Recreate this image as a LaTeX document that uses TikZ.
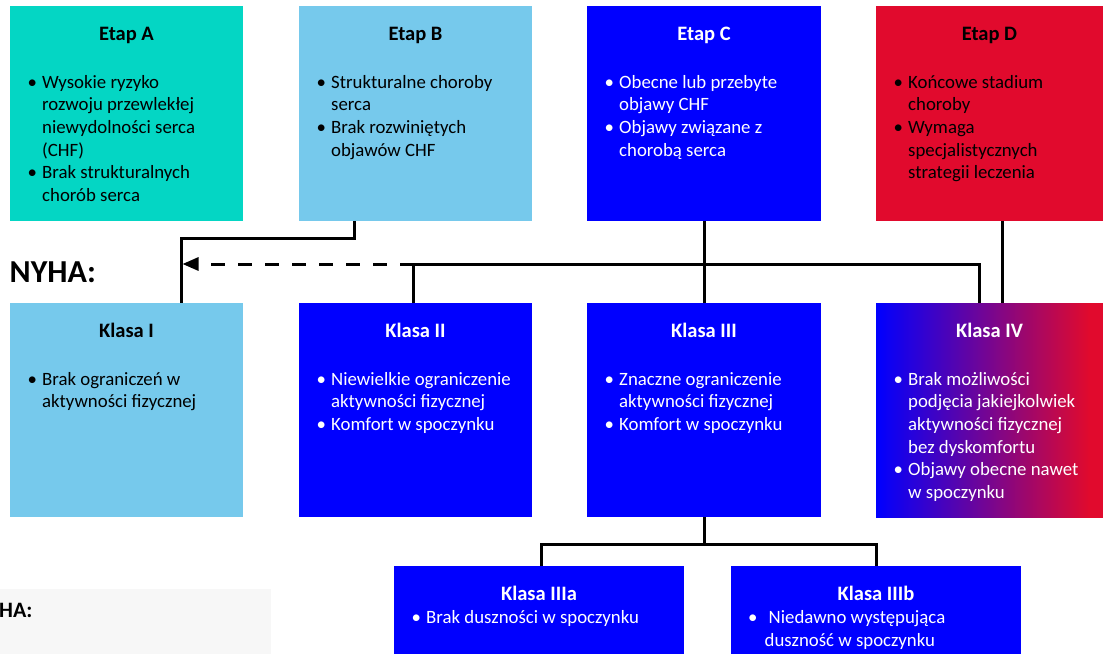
\documentclass[tikz,border=0pt]{standalone}
\usepackage{fontspec}
\setmainfont{Carlito}
\usepackage{xcolor}
\usetikzlibrary{calc,positioning,arrows.meta}

\definecolor{kolA}{HTML}{04D6C4}
\definecolor{kolB}{HTML}{76C9EC}
\definecolor{kolC}{HTML}{0000FF}
\definecolor{kolD}{HTML}{E10A2D}
\definecolor{kolSzary}{HTML}{F7F7F7}

\pgfdeclarehorizontalshading{niebCzerw}{100bp}{color(0bp)=(kolC); color(25bp)=(kolC); color(72bp)=(kolD); color(100bp)=(kolD)}

\newcommand{\pkt}{\makebox[14.5pt][l]{\textbullet}}
\newcommand{\wc}{\hspace*{14.5pt}}

\tikzset{
  pole/.style={rectangle, draw=none, inner sep=0pt, outer sep=0pt, anchor=north west},
  tytul/.style={anchor=base, inner sep=0pt, font=\fontsize{20.5}{24}\selectfont\bfseries},
  punkty/.style={anchor=north west, inner sep=0pt, align=left, font=\fontsize{18.8}{22.6}\selectfont},
  linia/.style={line width=3pt, black},
  strzalka/.style={linia, dash pattern=on 14pt off 13pt, -{Triangle[length=16pt,width=13pt]}, shorten >=1pt}
}

\begin{document}
\begin{tikzpicture}[x=1pt,y=1pt]
\useasboundingbox (0,0) rectangle (1103,-654);
%% stages
\node[pole, fill=kolA, minimum width=233pt, minimum height=215pt] (etapA) at (10,-6) {};
\node[pole, fill=kolB, minimum width=233pt, minimum height=215pt] (etapB) at (299,-6) {};
\node[pole, fill=kolC, minimum width=234pt, minimum height=215pt] (etapC) at (587,-6) {};
\node[pole, fill=kolD, minimum width=227pt, minimum height=215pt] (etapD) at (876,-6) {};
%% classes
\node[pole, fill=kolB, minimum width=233pt, minimum height=214pt] (kl1) at (10,-303) {};
\node[pole, fill=kolC, minimum width=233pt, minimum height=214pt] (kl2) at (299,-303) {};
\node[pole, fill=kolC, minimum width=234pt, minimum height=214pt] (kl3) at (587,-303) {};
\node[pole, shading=niebCzerw, minimum width=227pt, minimum height=214pt] (kl4) at (876,-303) {};
\node[pole, fill=kolC, minimum width=290pt, minimum height=88pt] (kl3a) at (394,-566) {};
\node[pole, fill=kolC, minimum width=290pt, minimum height=88pt] (kl3b) at (731,-566) {};
\node[pole, fill=kolSzary, minimum width=271pt, minimum height=65pt] (szary) at (0,-589) {};

%% titles
\node[tytul] (tytA) at ([yshift=-34pt]etapA.north) {Etap A};
\node[tytul] (tytB) at ([yshift=-34pt]etapB.north) {Etap B};
\node[tytul, white] (tytC) at ([yshift=-34pt]etapC.north) {Etap C};
\node[tytul] (tytD) at ([yshift=-34pt]etapD.north) {Etap D};
\node[tytul] (tyt1) at ([yshift=-34pt]kl1.north) {Klasa I};
\node[tytul, white] (tyt2) at ([yshift=-34pt]kl2.north) {Klasa II};
\node[tytul, white] (tyt3) at ([yshift=-34pt]kl3.north) {Klasa III};
\node[tytul, white] (tyt4) at ([yshift=-34pt]kl4.north) {Klasa IV};
\node[tytul, white] (tyt3a) at ([yshift=-34pt]kl3a.north) {Klasa IIIa};
\node[tytul, white] (tyt3b) at ([yshift=-34pt]kl3b.north) {Klasa IIIb};
\node[anchor=base west, inner sep=0pt, font=\fontsize{32}{38}\selectfont\bfseries] (nyha) at (9.5,-282) {NYHA:};
\node[anchor=base west, inner sep=0pt, font=\fontsize{22}{26}\selectfont\bfseries] (nyhaB) at (-1,-617) {HA:};

%% bullet texts
\node[punkty] (txtA) at ([xshift=17.5pt,yshift=-66.2pt]etapA.north west)
  {\strut\pkt Wysokie ryzyko\\\wc rozwoju przewlekłej\\\wc niewydolności serca\\\wc (CHF)\\\pkt Brak strukturalnych\\\wc chorób serca};
\node[punkty] (txtB) at ([xshift=17.5pt,yshift=-66.2pt]etapB.north west)
  {\strut\pkt Strukturalne choroby\\\wc serca\\\pkt Brak rozwiniętych\\\wc objawów CHF};
\node[punkty, white] (txtC) at ([xshift=17.5pt,yshift=-66.2pt]etapC.north west)
  {\strut\pkt Obecne lub przebyte\\\wc objawy CHF\\\pkt Objawy związane z\\\wc chorobą serca};
\node[punkty] (txtD) at ([xshift=17.5pt,yshift=-66.2pt]etapD.north west)
  {\strut\pkt Końcowe stadium\\\wc choroby\\\pkt Wymaga\\\wc specjalistycznych\\\wc strategii leczenia};
\node[punkty] (txt1) at ([xshift=17.5pt,yshift=-66.2pt]kl1.north west)
  {\strut\pkt Brak ograniczeń w\\\wc aktywności fizycznej};
\node[punkty, white] (txt2) at ([xshift=17.5pt,yshift=-66.2pt]kl2.north west)
  {\strut\pkt Niewielkie ograniczenie\\\wc aktywności fizycznej\\\pkt Komfort w spoczynku};
\node[punkty, white] (txt3) at ([xshift=17.5pt,yshift=-66.2pt]kl3.north west)
  {\strut\pkt Znaczne ograniczenie\\\wc aktywności fizycznej\\\pkt Komfort w spoczynku};
\node[punkty, white] (txt4) at ([xshift=17.5pt,yshift=-66.2pt]kl4.north west)
  {\strut\pkt Brak możliwości\\\wc podjęcia jakiejkolwiek\\\wc aktywności fizycznej\\\wc bez dyskomfortu\\\pkt Objawy obecne nawet\\\wc w spoczynku};
\node[punkty, white] (txt3a) at ([xshift=17.5pt,yshift=-41.5pt]kl3a.north west)
  {\strut\pkt Brak duszności w spoczynku};
\node[punkty, white] (txt3b) at ([xshift=17pt,yshift=-41.5pt]kl3b.north west)
  {\strut\makebox[20.5pt][l]{\textbullet}Niedawno występująca\\\hspace*{16.5pt}duszność w spoczynku};

%%% connectors
\coordinate (zakretB) at ([xshift=-61pt,yshift=-17pt]etapB.south);
\coordinate (wejscie) at ([xshift=55pt]kl1.north);
\draw[linia] ([xshift=-61pt]etapB.south) -- (zakretB) -| (wejscie);
\coordinate (szyna) at ([xshift=-2pt,yshift=39pt]kl2.north);
\draw[linia] (kl2.north -| szyna) -- (szyna) -| ([xshift=-10pt]kl4.north);
\draw[strzalka] (szyna) -- (szyna -| wejscie);
\draw[linia] (etapC.south) -- (kl3.north);
\draw[linia] ([xshift=13pt]etapD.south) -- ([xshift=13pt]kl4.north);
\coordinate (wezel) at ([yshift=-27pt]kl3.south);
\draw[linia] (kl3.south) -- (wezel);
\draw[linia] ([xshift=2pt]kl3a.north) |- (wezel) -| (kl3b.north);
\end{tikzpicture}
\end{document}
